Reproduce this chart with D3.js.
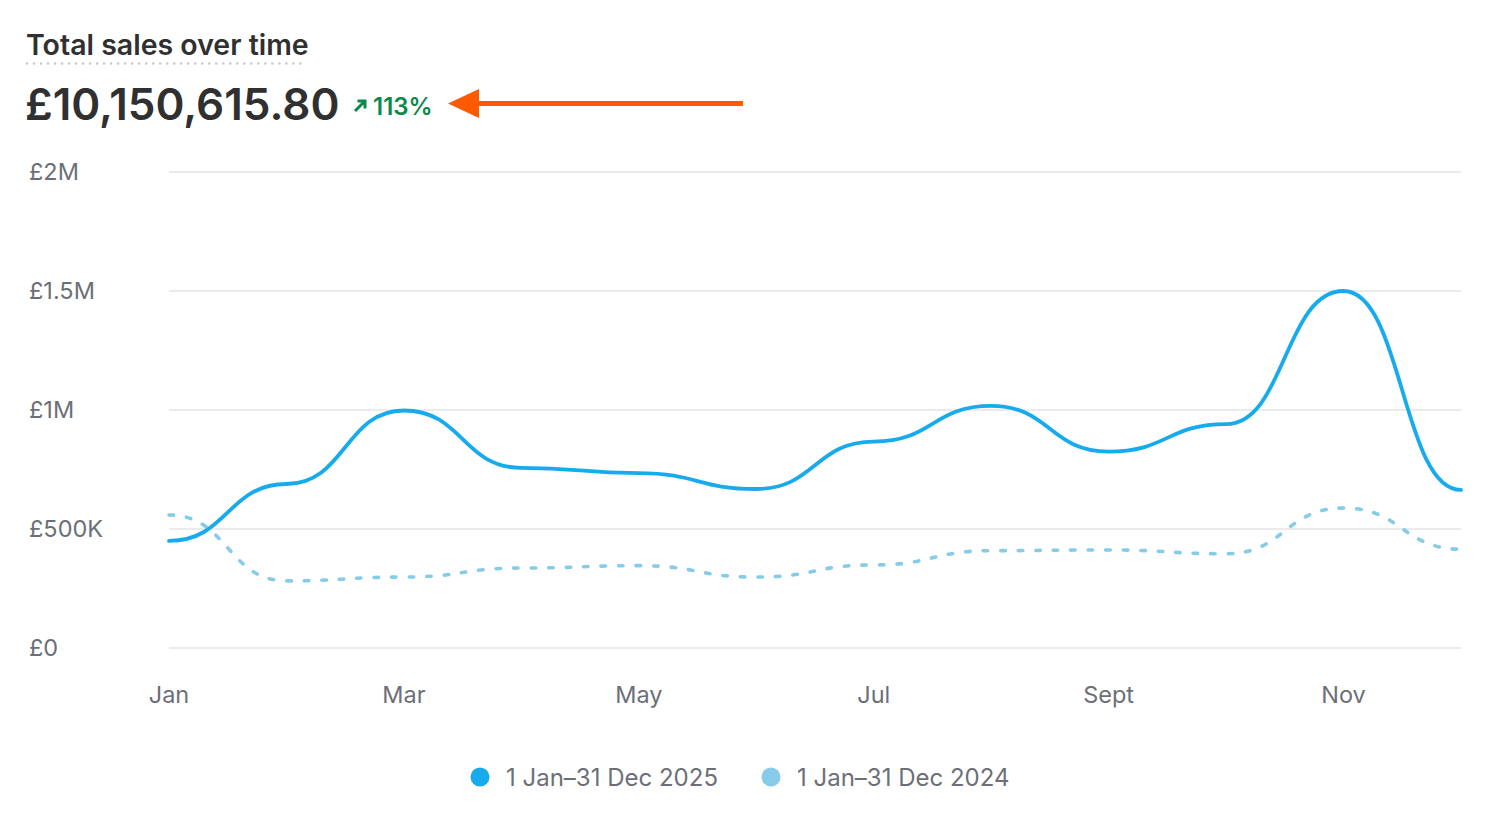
<!DOCTYPE html>
<html>
<head>
<meta charset="utf-8">
<script src="https://cdn.jsdelivr.net/npm/d3@7"></script>
<style>
  body { margin: 0; background: #fff; }
  text { font-family: Inter, "Noto Sans", sans-serif; }
</style>
</head>
<body>
<div id="chart"></div>
<script>
const months = ['Jan','Feb','Mar','Apr','May','Jun','Jul','Aug','Sept','Oct','Nov','Dec'];
const sales2025 = [450000, 689000, 998000, 757000, 735000, 668000, 867000, 1017000, 825000, 941000, 1500000, 664000];
const sales2024 = [559000, 282000, 298000, 336000, 346000, 298000, 349000, 409000, 412000, 396000, 588000, 415000];
const yTicks = [0, 500000, 1000000, 1500000, 2000000];
const yTickLabels = ['£0', '£500K', '£1M', '£1.5M', '£2M'];
const xTickLabels = ['Jan', 'Mar', 'May', 'Jul', 'Sept', 'Nov'];
const legendLabels = ['1 Jan–31 Dec 2025', '1 Jan–31 Dec 2024'];

const width = 1492, height = 823;
const solidColor = '#17abee', dashColor = '#86cce9';

const svg = d3.select('#chart').append('svg')
  .attr('width', width).attr('height', height);

const x = d3.scalePoint().domain(months).range([169, 1461]);
const y = d3.scaleLinear().domain([0, 2000000]).range([648, 172]);

// header
svg.append('text').attr('x', 26).attr('y', 55)
  .attr('font-size', 28.5).attr('font-weight', 600).attr('fill', '#303030')
  .text('Total sales over time');
svg.append('line').attr('x1', 27).attr('x2', 307).attr('y1', 63.5).attr('y2', 63.5)
  .attr('stroke', '#c8c8c8').attr('stroke-width', 2.6)
  .attr('stroke-linecap', 'round').attr('stroke-dasharray', '0.01 7');

svg.append('text').attr('x', 25).attr('y', 120)
  .attr('font-size', 44).attr('font-weight', 600).attr('fill', '#303030')
  .text('£10,150,615.80');

// green up arrow + percentage
svg.append('path').attr('d', 'M355,111 L364,102 M357.5,101 L365,101 L365,108.5')
  .attr('fill', 'none').attr('stroke', '#0c8a4a').attr('stroke-width', 3);
svg.append('text').attr('x', 373).attr('y', 115)
  .attr('font-size', 24).attr('font-weight', 600).attr('fill', '#0c8a4a')
  .text('113%');

// orange annotation arrow
svg.append('line').attr('x1', 476).attr('x2', 743).attr('y1', 103.5).attr('y2', 103.5)
  .attr('stroke', '#ff5a00').attr('stroke-width', 5);
svg.append('path').attr('d', 'M448,103.5 L479,89 L479,118 Z').attr('fill', '#ff5a00');

// grid + y labels
svg.append('g').selectAll('line').data(yTicks).enter().append('line')
  .attr('x1', 169).attr('x2', 1461)
  .attr('y1', d => y(d)).attr('y2', d => y(d))
  .attr('stroke', '#ebebeb').attr('stroke-width', 2);
svg.append('g').selectAll('text').data(yTicks).enter().append('text')
  .attr('x', 29).attr('y', d => y(d) + 8)
  .attr('font-size', 23.5).attr('fill', '#6c6f77')
  .text((d, i) => yTickLabels[i]);

// x labels
svg.append('g').selectAll('text').data(xTickLabels).enter().append('text')
  .attr('x', d => x(d)).attr('y', 703)
  .attr('text-anchor', 'middle')
  .attr('font-size', 23.5).attr('fill', '#6c6f77')
  .text(d => d);

const line = d3.line().x((d, i) => x(months[i])).y(d => y(d)).curve(d3.curveBumpX);

svg.append('path').datum(sales2024).attr('d', line)
  .attr('fill', 'none').attr('stroke', dashColor).attr('stroke-width', 3.6)
  .attr('stroke-linecap', 'round').attr('stroke-dasharray', '4.5 13');

svg.append('path').datum(sales2025).attr('d', line)
  .attr('fill', 'none').attr('stroke', solidColor).attr('stroke-width', 3.8)
  .attr('stroke-linecap', 'round');

// legend
const legendX = [480, 771];
const legend = svg.append('g').selectAll('g').data(legendLabels).enter().append('g');
legend.append('circle').attr('cx', (d, i) => legendX[i]).attr('cy', 777).attr('r', 9.5)
  .attr('fill', (d, i) => i === 0 ? solidColor : dashColor);
legend.append('text').attr('x', (d, i) => legendX[i] + 26).attr('y', 785.5)
  .attr('font-size', 24).attr('fill', '#6c6f77')
  .text(d => d);
</script>
</body>
</html>
